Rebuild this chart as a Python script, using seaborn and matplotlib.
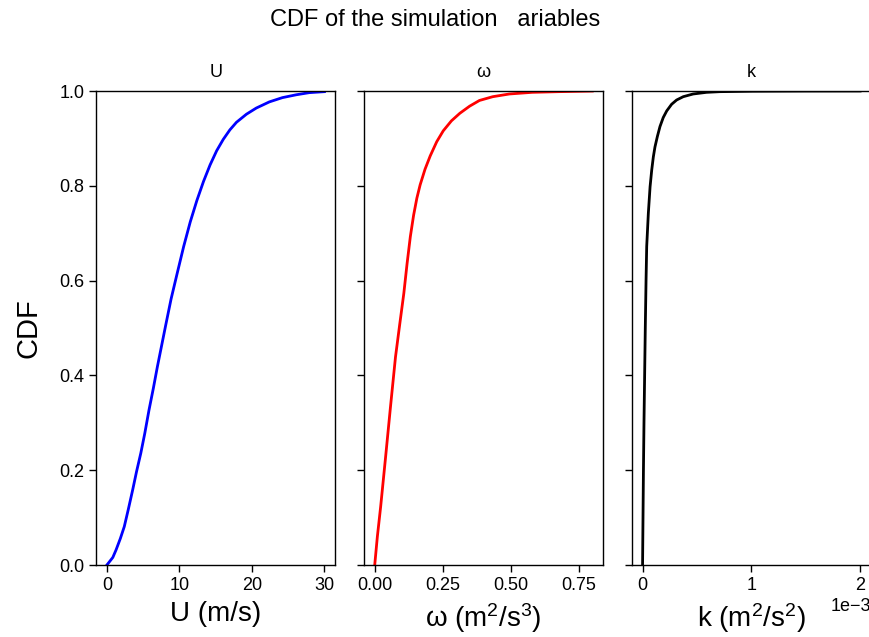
import matplotlib
matplotlib.use("Agg")
import matplotlib.pyplot as plt
import seaborn as sns
import pandas as pd
from matplotlib.ticker import FixedLocator, FormatStrFormatter

plt.rcParams['font.family'] = ['Liberation Sans', 'DejaVu Sans']
plt.rcParams['mathtext.fontset'] = 'custom'
plt.rcParams['mathtext.rm'] = 'Liberation Sans'
plt.rcParams['mathtext.it'] = 'Liberation Sans:italic'

# ---- data ----
u_vals = [0.0, 0.36, 0.82, 1.27, 1.86, 2.4, 2.95, 3.55, 4.09, 4.68, 5.23,
          5.81, 6.41, 6.96, 7.55, 8.1, 8.85, 9.69, 10.59, 11.5, 12.41, 13.32,
          14.23, 15.14, 16.05, 16.96, 17.87, 19.24, 20.6, 22.4, 24.2, 26.1,
          27.9, 30.0]
u_cdf = [0.0, 0.007, 0.016, 0.032, 0.056, 0.081, 0.117, 0.158, 0.197, 0.236,
         0.278, 0.327, 0.373, 0.418, 0.463, 0.505, 0.561, 0.615, 0.672, 0.724,
         0.769, 0.809, 0.844, 0.874, 0.898, 0.918, 0.934, 0.951, 0.964, 0.977,
         0.986, 0.992, 0.9965, 0.9986]

w_vals = [0.0, 0.0097, 0.0218, 0.04, 0.058, 0.0764, 0.092, 0.107, 0.119,
          0.131, 0.143, 0.155, 0.167, 0.185, 0.204, 0.228, 0.252, 0.282, 0.313,
          0.349, 0.385, 0.434, 0.495, 0.579, 0.676, 0.80]
w_cdf = [0.0, 0.06, 0.123, 0.228, 0.334, 0.439, 0.508, 0.573, 0.636, 0.693,
         0.738, 0.774, 0.802, 0.835, 0.863, 0.893, 0.916, 0.937, 0.953, 0.968,
         0.980, 0.988, 0.9937, 0.9972, 0.9986, 0.9999]

k_vals_e3 = [0.0, 0.004, 0.008, 0.013, 0.019, 0.025, 0.032, 0.038, 0.053,
             0.069, 0.084, 0.099, 0.114, 0.136, 0.160, 0.190, 0.222, 0.267,
             0.313, 0.374, 0.465, 0.588, 0.710, 1.01, 1.5, 2.0]
k_cdf = [0.0, 0.1, 0.2, 0.3, 0.4, 0.5, 0.601, 0.672, 0.742, 0.798, 0.833,
         0.861, 0.882, 0.904, 0.925, 0.944, 0.958, 0.972, 0.981, 0.988, 0.9937,
         0.9972, 0.9986, 0.9995, 0.9999, 1.0]

titles = ['U', 'ω', 'k']
xlabels = ['U (m/s)', 'ω (m$^2$/s$^3$)', 'k (m$^2$/s$^2$)']
colors = ['blue', 'red', 'black']
xticks = [[0, 10, 20, 30], [0.0, 0.25, 0.50, 0.75], [0.0, 0.001, 0.002]]
yticks = [0.0, 0.2, 0.4, 0.6, 0.8, 1.0]

frames = [
    pd.DataFrame({'x': u_vals, 'cdf': u_cdf}),
    pd.DataFrame({'x': w_vals, 'cdf': w_cdf}),
    pd.DataFrame({'x': [v * 1e-3 for v in k_vals_e3], 'cdf': k_cdf}),
]

fig, axes = plt.subplots(1, 3, sharey=True, figsize=(8.7, 6.37), dpi=100)
fig.subplots_adjust(left=96 / 870, right=871 / 870, bottom=1 - 565 / 637,
                    top=1 - 91 / 637, wspace=28.5 / 239)

for i, ax in enumerate(axes):
    sns.lineplot(data=frames[i], x='x', y='cdf', ax=ax, color=colors[i],
                 linewidth=2, estimator=None, sort=True)
    ax.set_title(titles[i], fontsize=13, pad=10)
    ax.set_xlabel(xlabels[i], fontsize=20, labelpad=5)
    ax.set_ylabel('')
    ax.xaxis.set_major_locator(FixedLocator(xticks[i]))
    ax.tick_params(axis='both', labelsize=13, length=5, width=1, color='black')
    for s in ax.spines.values():
        s.set_linewidth(1)
        s.set_color('black')

axes[1].xaxis.set_major_formatter(FormatStrFormatter('%.2f'))
axes[2].ticklabel_format(style='sci', axis='x', scilimits=(0, 0))
axes[2].xaxis.get_offset_text().set_fontsize(13)

axes[0].set_ylim(0, 1)
axes[0].yaxis.set_major_locator(FixedLocator(yticks))
axes[0].set_ylabel('CDF', fontsize=21, labelpad=12)

fig.suptitle('CDF of the simulation   ariables', fontsize=17, y=1 - 20 / 637,
             va='center')

fig.savefig('out.png', dpi=100)
